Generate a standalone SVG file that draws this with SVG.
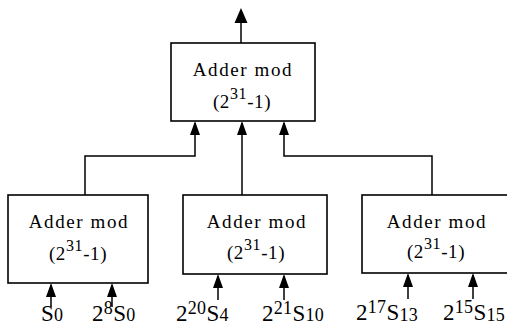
<svg xmlns="http://www.w3.org/2000/svg" width="507" height="326" viewBox="0 0 507 326" font-family="'Liberation Serif', 'DejaVu Serif', serif">
<style>
.box{fill:#fff;stroke:#000;stroke-width:1.6}
.ln{fill:none;stroke:#000;stroke-width:1.5}
text{font-family:'Liberation Serif','DejaVu Serif',serif;fill:#000}
.t{font-size:19px;text-anchor:middle;letter-spacing:1.6px}
.p{font-size:19px;text-anchor:middle;letter-spacing:0.6px}
.lb{font-size:23px;letter-spacing:0.3px}
.sm{font-size:16px}
.ls{font-size:18px}
</style>
<rect width="507" height="326" fill="#fff"/>
<g id="connectors">
<path class="ln" d="M241 43 V20"/>
<path class="ln" d="M85 195 V156 H195 V123"/>
<path class="ln" d="M242 195 V123"/>
<path class="ln" d="M432 195 V156 H284 V123"/>
<path class="ln" d="M51 307 V285"/>
<path class="ln" d="M112 307 V285"/>
<path class="ln" d="M218 300 V276"/>
<path class="ln" d="M284 300 V276"/>
<path class="ln" d="M408 299 V275"/>
<path class="ln" d="M473 299 V275"/>
<g fill="#000">
<path d="M241 8 L247.5 23 L234.5 23 Z"/>
<path d="M195 121 L200 135 L190 135 Z"/>
<path d="M242 121 L247 135 L237 135 Z"/>
<path d="M284 121 L289 135 L279 135 Z"/>
<path d="M51 283 L56 297 L46 297 Z"/>
<path d="M112 283 L117 297 L107 297 Z"/>
<path d="M218 274 L223 288 L213 288 Z"/>
<path d="M284 274 L289 288 L279 288 Z"/>
<path d="M408 273 L413 287 L403 287 Z"/>
<path d="M473 273 L478 287 L468 287 Z"/>
</g>
</g>
<g id="adder-top">
<rect class="box" x="171" y="43" width="144" height="78"/>
<text class="t" x="243" y="76">Adder mod</text>
<text class="p" x="242" y="108">(2<tspan class="sm" dy="-9">31</tspan><tspan dy="9">-1)</tspan></text>
</g>
<g id="adder-left">
<rect class="box" x="8" y="195" width="140" height="88"/>
<text class="t" x="79" y="228">Adder mod</text>
<text class="p" x="78" y="260">(2<tspan class="sm" dy="-9">31</tspan><tspan dy="9">-1)</tspan></text>
</g>
<g id="adder-mid">
<rect class="box" x="183" y="195" width="144" height="79"/>
<text class="t" x="257" y="228">Adder mod</text>
<text class="p" x="256" y="259">(2<tspan class="sm" dy="-9">31</tspan><tspan dy="9">-1)</tspan></text>
</g>
<g id="adder-right">
<rect class="box" x="362" y="195" width="148" height="78"/>
<text class="t" x="437" y="228">Adder mod</text>
<text class="p" x="436" y="258">(2<tspan class="sm" dy="-9">31</tspan><tspan dy="9">-1)</tspan></text>
</g>
<g id="labels">
<text class="lb" x="41" y="321">S<tspan class="ls">0</tspan></text>
<text class="lb" x="92" y="321">2<tspan class="ls" dy="-7">8</tspan><tspan dy="7">S</tspan><tspan class="ls">0</tspan></text>
<text class="lb" x="176" y="321">2<tspan class="ls" dy="-7">20</tspan><tspan dy="7">S</tspan><tspan class="ls">4</tspan></text>
<text class="lb" x="262" y="321">2<tspan class="ls" dy="-7">21</tspan><tspan dy="7">S</tspan><tspan class="ls">10</tspan></text>
<text class="lb" x="356" y="320">2<tspan class="ls" dy="-7">17</tspan><tspan dy="7">S</tspan><tspan class="ls" dy="1">13</tspan></text>
<text class="lb" x="443" y="320">2<tspan class="ls" dy="-7">15</tspan><tspan dy="7">S</tspan><tspan class="ls" dy="1">15</tspan></text>
</g>
</svg>
